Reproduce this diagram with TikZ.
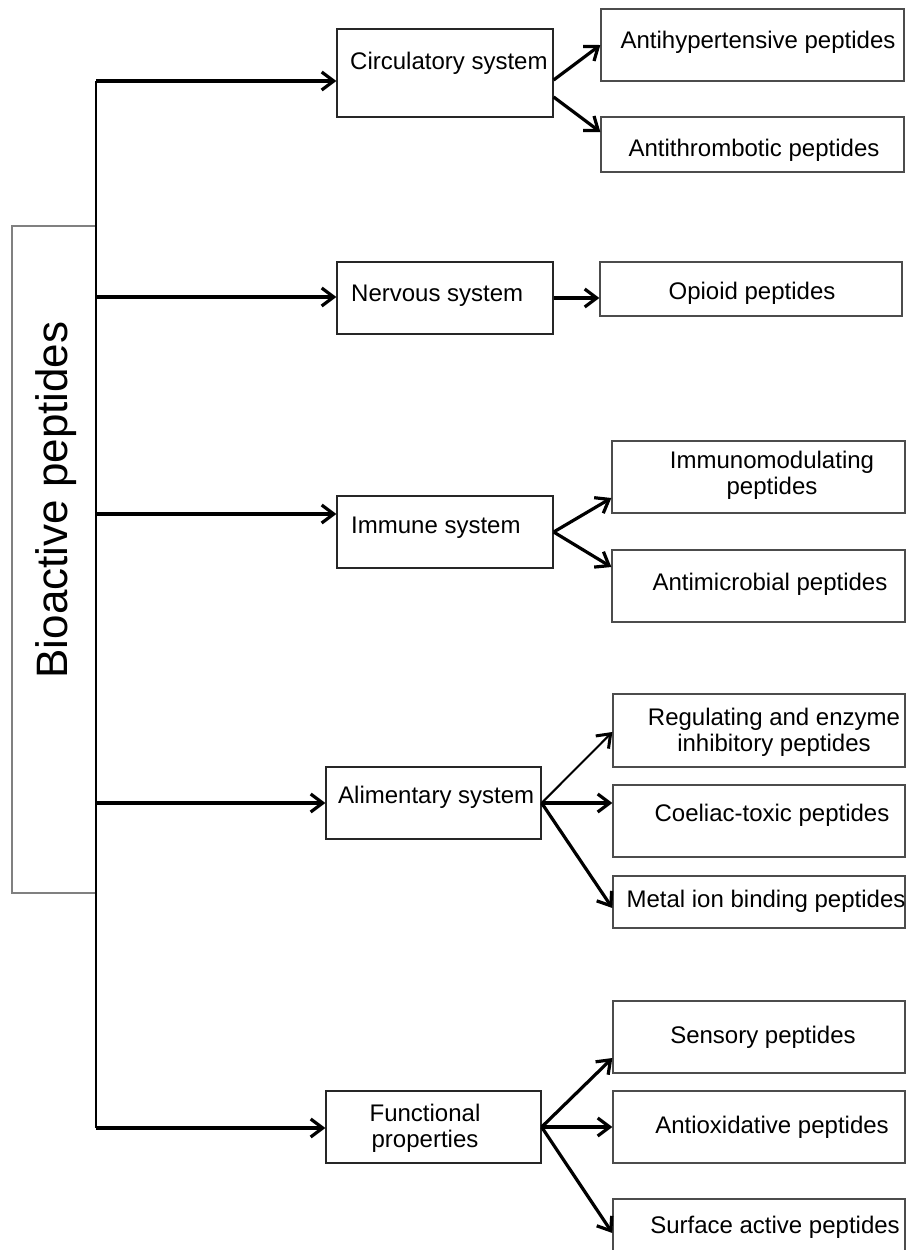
\documentclass[tikz,border=0pt]{standalone}
\usepackage{fontspec}
\setmainfont{Liberation Sans}
\usetikzlibrary{arrows.meta}
\begin{document}
\begin{tikzpicture}[x=1pt,y=-1pt,
  bigbox/.style={draw=black!50, line width=1.4pt, rectangle, inner sep=0pt},
  midbox/.style={draw=black!85, line width=1.3pt, rectangle, inner sep=0pt},
  leafbox/.style={draw=black!70, line width=1.3pt, rectangle, inner sep=0pt},
  lbl/.style={inner sep=0pt, font=\fontsize{24}{26}\selectfont, align=center},
  arr/.style={line width=3.2pt, -{Straight Barb[length=12pt,width=18pt]}},
  thinarr/.style={line width=2pt, -{Straight Barb[length=12pt,width=18pt,line width=3pt]}},
  trunk/.style={line width=1.8pt}]
\useasboundingbox (0,0) rectangle (906,1250);
\clip (0,0) rectangle (906,1250);
\fill[white] (0,0) rectangle (906,1250);

% main box
\node[bigbox, minimum width=84pt, minimum height=667pt] (bio) at (54,559.5) {};
\node[inner sep=0pt, rotate=90, font=\fontsize{44}{50}\selectfont] (biot) at (56,500) {Bioactive peptides};

% trunk junctions
\coordinate (j1) at (96,81);
\coordinate (j2) at (96,297);
\coordinate (j3) at (96,514);
\coordinate (j4) at (96,803);
\coordinate (j5) at (96,1128);

% second level
\node[midbox, minimum width=216pt, minimum height=88pt] (circ) at (445,73) {};
\node[lbl, anchor=west] (circt) at (350,63) {Circulatory system};
\node[midbox, minimum width=216pt, minimum height=72pt] (nerv) at (445,298) {};
\node[lbl, anchor=west] (nervt) at (351,296) {Nervous system};
\node[midbox, minimum width=216pt, minimum height=72pt] (immu) at (445,532) {};
\node[lbl, anchor=west] (immut) at (351,528) {Immune system};
\node[midbox, minimum width=215pt, minimum height=72pt] (alim) at (433.5,803) {};
\node[lbl, anchor=west] (alimt) at (338,797) {Alimentary system};
\node[midbox, minimum width=215pt, minimum height=72pt] (func) at (433.5,1127) {};
\node[lbl] (funct) at (425,1128.5) {Functional\\properties};

% third level
\node[leafbox, minimum width=303pt, minimum height=72pt] (ahyp) at (752.5,45) {};
\node[lbl] (ahypt) at (758,42) {Antihypertensive peptides};
\node[leafbox, minimum width=303pt, minimum height=55pt] (athr) at (752.5,144.5) {};
\node[lbl] (athrt) at (754,150) {Antithrombotic peptides};
\node[leafbox, minimum width=302pt, minimum height=54pt] (opio) at (751,289) {};
\node[lbl] (opiot) at (752,293) {Opioid peptides};
\node[leafbox, minimum width=293pt, minimum height=72pt] (imod) at (758.5,477) {};
\node[lbl] (imodt) at (772,475) {Immunomodulating\\peptides};
\node[leafbox, minimum width=293pt, minimum height=72pt] (amic) at (758.5,586) {};
\node[lbl] (amict) at (770,584) {Antimicrobial peptides};
\node[leafbox, minimum width=292pt, minimum height=73pt] (regu) at (759,730.5) {};
\node[lbl] (regut) at (774,732) {Regulating and enzyme\\inhibitory peptides};
\node[leafbox, minimum width=292pt, minimum height=72pt] (coel) at (759,821) {};
\node[lbl] (coelt) at (772,815) {Coeliac-toxic peptides};
\node[leafbox, minimum width=292pt, minimum height=52pt] (meta) at (759,902) {};
\node[lbl] (metat) at (766,901) {Metal ion binding peptides};
\node[leafbox, minimum width=292pt, minimum height=72pt] (sens) at (759,1037) {};
\node[lbl] (senst) at (763,1037) {Sensory peptides};
\node[leafbox, minimum width=292pt, minimum height=72pt] (anto) at (759,1127) {};
\node[lbl] (antot) at (772,1127) {Antioxidative peptides};
\node[leafbox, minimum width=292pt, minimum height=72pt] (surf) at (759,1235) {};
\node[lbl] (surft) at (775,1227) {Surface active peptides};

% trunk
\draw[trunk] (j1) -- (j5);
\draw[arr] (j1) -- (j1 -| circ.west);
\draw[arr] (j2) -- (j2 -| nerv.west);
\draw[arr] (j3) -- (j3 -| immu.west);
\draw[arr] (j4) -- (j4 -| alim.west);
\draw[arr] (j5) -- (j5 -| func.west);

% branches
\draw[arr] ([yshift=-7pt]circ.east) -- (ahyp.west);
\draw[arr] ([yshift=-24pt]circ.east) -- ([yshift=12.5pt]athr.west);
\draw[arr] (nerv.east) -- (nerv.east -| opio.west);
\draw[arr] (immu.east) -- ([yshift=-21pt]imod.west);
\draw[arr] (immu.east) -- ([yshift=19pt]amic.west);
\draw[thinarr] (alim.east) -- ([yshift=-1.5pt]regu.west);
\draw[arr] (alim.east) -- (alim.east -| coel.west);
\draw[arr] (alim.east) -- ([yshift=-6pt]meta.west);
\draw[arr] (func.east) -- ([yshift=-21pt]sens.west);
\draw[arr] (func.east) -- (anto.west);
\draw[arr] (func.east) -- ([yshift=2pt]surf.west);
\end{tikzpicture}
\end{document}
